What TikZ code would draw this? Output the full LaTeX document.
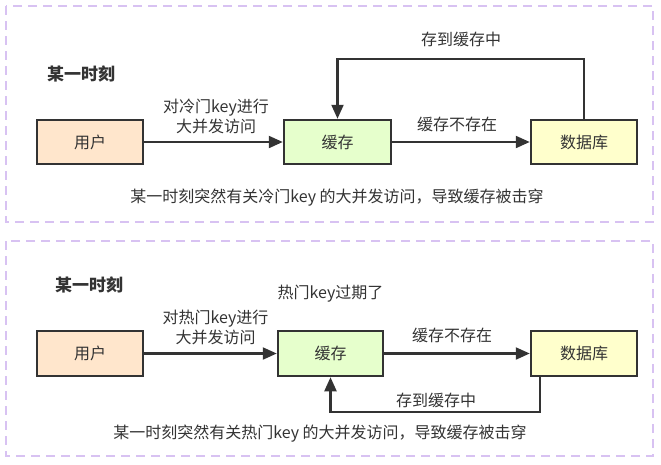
\documentclass[tikz,border=0pt]{standalone}
\usepackage{fontspec}
\setmainfont{Noto Sans CJK SC}
\usetikzlibrary{positioning,arrows.meta}
\definecolor{framepurple}{HTML}{D8C2F2}
\definecolor{ink}{HTML}{333333}
\definecolor{userfill}{HTML}{FFE6CC}
\definecolor{cachefill}{HTML}{E6FFCC}
\definecolor{dbfill}{HTML}{FFFFCC}

\begin{document}
\begin{tikzpicture}[x=1pt, y=-1pt, node distance={247pt}, font=\fontsize{16}{20}\selectfont, text=ink,
    main/.style = {draw=ink, line width=2.5pt, minimum width=106pt, minimum height=44pt, inner sep=0pt},
    flow/.style = {draw=ink, line width=2.2pt, -{Triangle[length=14pt,width=12pt]}},
    frame/.style = {draw=framepurple, line width=2pt, dash pattern=on 9pt off 6pt},
    title/.style = {font=\fontsize{17}{20}\selectfont\bfseries}]
    \useasboundingbox (0,0) rectangle (661,464);

    % cold key
    \draw[frame] (6,6) rectangle (653,222);
    \node[title] (title1) at (81,74) {某一时刻};
    \node[main, fill=userfill] (user1) at (90,142) {用户};
    \node[main, fill=cachefill, minimum width=107pt] (cache1) [right of=user1, node distance=247.5pt] {缓存};
    \node[main, fill=dbfill] (db1) [right of=cache1, node distance=246.5pt] {数据库};
    \coordinate (turn1) at (461,59);

    \draw[flow] (user1) -- (cache1) node [midway, above=4pt, xshift=2.5pt, align=center] {对冷门key进行\\大并发访问};
    \draw[flow] (cache1) -- (db1) node [midway, above=6pt, xshift=-4pt] {缓存不存在};
    \draw[flow] (db1.north) |- (turn1) node [above=8pt] {存到缓存中} -| (cache1.north);
    \node (note1) at (337,198) {某一时刻突然有关冷门key 的大并发访问，导致缓存被击穿};

    % hot key
    \draw[frame] (6,241) rectangle (653,456);
    \node[title] (title2) at (89,285) {某一时刻};
    \node[main, fill=userfill, minimum height=45pt] (user2) at (90,353.5) {用户};
    \node[main, fill=cachefill, minimum height=45pt, minimum width=105pt] (cache2) [right of=user2, node distance=240.5pt] {缓存};
    \node[main, fill=dbfill, minimum height=45pt] (db2) [right of=cache2, node distance=253.5pt] {数据库};
    \node (expire) [above of=cache2, node distance=59.5pt] {热门key过期了};
    \coordinate (out2) at ([xshift=10pt]db2.south west);
    \coordinate (turn2) at (436,412);

    \draw[flow] (user2) -- (cache2) node [midway, above=4pt, xshift=5pt, align=center] {对热门key进行\\大并发访问};
    \draw[flow] (cache2) -- (db2) node [midway, above=6pt, xshift=-5pt] {缓存不存在};
    \draw[flow] (out2) |- (turn2) node [above] {存到缓存中} -| (cache2.south);
    \node (note2) at (320,434) {某一时刻突然有关热门key 的大并发访问，导致缓存被击穿};
\end{tikzpicture}
\end{document}
